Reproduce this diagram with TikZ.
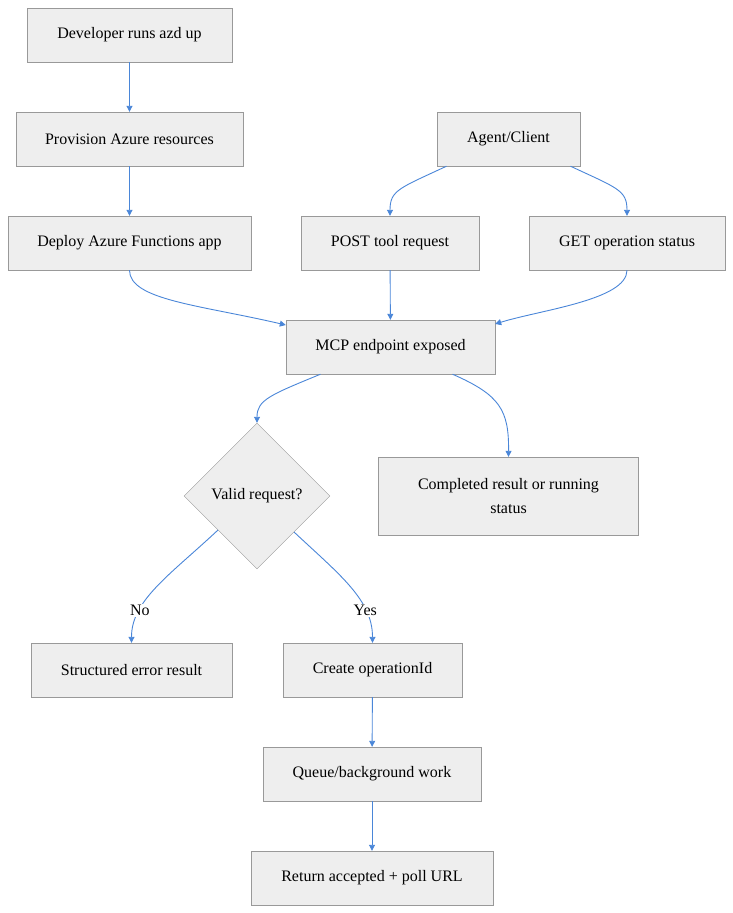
\documentclass[tikz,border=0pt]{standalone}
\usepackage{fontspec}
\setmainfont{Liberation Serif}
\usetikzlibrary{shapes.geometric,calc,arrows.meta}
\definecolor{edge}{HTML}{4A86D8}
\definecolor{boxfill}{HTML}{EEEEEE}
\definecolor{boxline}{HTML}{999999}
\begin{document}
\begin{tikzpicture}[x=1pt,y=-1pt,
  box/.style={draw=boxline,fill=boxfill,minimum height=54pt,inner sep=0pt,font=\fontsize{16}{24}\selectfont,align=center},
  dia/.style={draw=boxline,fill=boxfill,diamond,minimum width=146pt,minimum height=146pt,inner sep=0pt,font=\fontsize{16}{19}\selectfont},
  conn/.style={draw=edge,line width=0.9pt,-{Triangle[length=6pt,width=6pt]}},
  lbl/.style={fill=white,inner sep=1pt,font=\fontsize{16}{19}\selectfont}]
\useasboundingbox (0,0) rectangle (733,913);
\node[box,minimum width=205pt] (dev) at (129.5,35) {Developer runs azd up};
\node[box,minimum width=227pt] (prov) at (129.5,139) {Provision Azure resources};
\node[box,minimum width=243pt] (deploy) at (129.5,243) {Deploy Azure Functions app};
\node[box,minimum width=143pt] (agent) at (508.5,139) {Agent/Client};
\node[box,minimum width=178pt] (post) at (390,243) {POST tool request};
\node[box,minimum width=196pt] (get) at (627,243) {GET operation status};
\node[box,minimum width=209pt] (mcp) at (390.5,347) {MCP endpoint exposed};
\node[dia] (valid) at (257,496) {Valid request?};
\node[box,minimum width=260pt,minimum height=78pt] (done) at (508.5,496) {Completed result or running\\status};
\node[box,minimum width=201pt] (err) at (131.5,670) {Structured error result};
\node[box,minimum width=179pt] (create) at (372.5,670) {Create operationId};
\node[box,minimum width=218pt] (queue) at (372,774) {Queue/background work};
\node[box,minimum width=242pt] (ret) at (372,878) {Return accepted + poll URL};
\draw[conn] (dev) -- (prov);
\draw[conn] (prov) -- (deploy);
\draw[conn] ($(agent.south)+(-62,0)$) .. controls (400,188) and (390,190) .. (post.north);
\draw[conn] ($(agent.south)+(62,0)$) .. controls (617,188) and (627,190) .. (get.north);
\draw[conn] (deploy.south) .. controls (129.5,300) and (200,305) .. ($(mcp.west)+(0,-22)$);
\draw[conn] (post) -- (mcp);
\draw[conn] (get.south) .. controls (627,300) and (540,310) .. ($(mcp.east)+(0,-23)$);
\draw[conn] ($(mcp.south)+(-70,0)$) .. controls (270,395) and (257,400) .. (valid.north);
\draw[conn] ($(mcp.south)+(62,0)$) .. controls (500,395) and (509,410) .. (done.north);
\draw[conn] ($(valid.center)+(-39,34)$) .. controls (170,575) and (131.5,600) .. (err.north) node[lbl,pos=0.72] {No};
\draw[conn] ($(valid.center)+(37,36)$) .. controls (340,575) and (372.5,600) .. (create.north) node[lbl,pos=0.72] {Yes};
\draw[conn] (create) -- (queue);
\draw[conn] (queue) -- (ret);
\end{tikzpicture}
\end{document}
